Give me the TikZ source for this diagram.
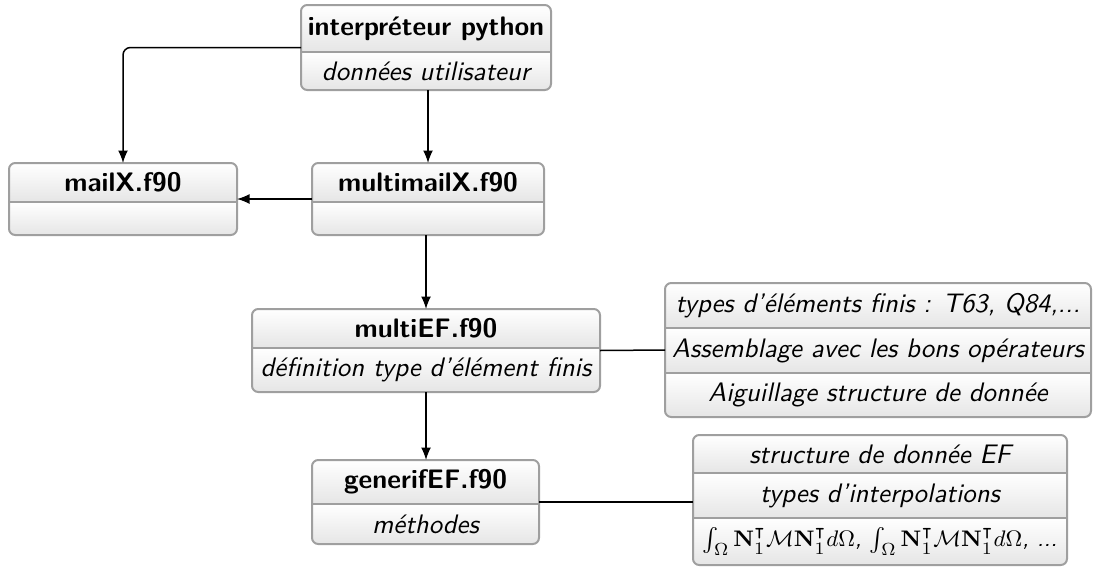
\documentclass[tikz,border=0pt]{standalone}
\usepackage{amsmath,amssymb}
\usetikzlibrary{fit,backgrounds,arrows.meta}
\renewcommand\familydefault{\sfdefault}
\tikzset{
  partn/.style={inner sep=0pt, outer sep=0pt, font=\fontsize{10.7}{12.8}\selectfont\sffamily},
  ttl/.style={partn, font=\fontsize{10.7}{12.8}\selectfont\sffamily\bfseries},
  sub/.style={partn, font=\fontsize{10.7}{12.8}\selectfont\sffamily\itshape},
  mathline/.style={partn, font=\fontsize{9.4}{11}\selectfont\sffamily\itshape},
  pw/.style={minimum width=#1*0.4pt},
  ph/.style={minimum height=#1*0.4pt},
  frame/.style={draw=gray!75, line width=0.8pt, rounded corners=2.5pt, inner sep=0pt, outer sep=0pt},
  sepline/.style={draw=gray!75, line width=0.6pt},
  arr/.style={draw=black, line width=0.6pt, -{Latex[length=5pt,width=4pt]}},
  lnk/.style={draw=black, line width=0.6pt},
  shd/.style={top color=white, bottom color=gray!20},
}
\newcommand\shadebox[2]{%
  \begin{scope}[on background layer]
    \begin{scope}
      \clip[rounded corners=2.5pt] (#1.north west) rectangle (#1.south east);
      \foreach \p in {#2} {\shade[shd] (\p.north west) rectangle (\p.south east);}
    \end{scope}
  \end{scope}}
\begin{document}
\begin{tikzpicture}[x=0.4pt, y=-0.4pt]
\useasboundingbox (0,0) rectangle (1093,567);
% interpreteur
\node[ttl, pw=250, ph=47] (b1a) at (426,28.5) {interpréteur python};
\node[sub, pw=250, ph=38] (b1b) at (426,71) {données utilisateur};
\node[frame, fit=(b1a)(b1b)] (b1) {};
\shadebox{b1}{b1a,b1b}
\draw[sepline] (b1a.south west) -- (b1a.south east);
% mailX
\node[ttl, pw=228, ph=39] (b2a) at (123,182.5) {mailX.f90};
\node[sub, pw=228, ph=33] (b2b) at (123,218.5) {};
\node[frame, fit=(b2a)(b2b)] (b2) {};
\shadebox{b2}{b2a,b2b}
\draw[sepline] (b2a.south west) -- (b2a.south east);
% multimailX
\node[ttl, pw=232, ph=39] (b3a) at (428,182.5) {multimailX.f90};
\node[sub, pw=232, ph=33] (b3b) at (428,218.5) {};
\node[frame, fit=(b3a)(b3b)] (b3) {};
\shadebox{b3}{b3a,b3b}
\draw[sepline] (b3a.south west) -- (b3a.south east);
% multiEF
\node[ttl, pw=348, ph=39] (b4a) at (426,328.5) {multiEF.f90};
\node[sub, pw=348, ph=44] (b4b) at (426,370) {définition type d'élément finis};
\node[frame, fit=(b4a)(b4b)] (b4) {};
\shadebox{b4}{b4a,b4b}
\draw[sepline] (b4a.south west) -- (b4a.south east);
% right 1
\node[sub, pw=426, ph=45] (b5a) at (878,305.5) {types d'éléments finis : T63, Q84,...};
\node[sub, pw=426, ph=45] (b5b) at (878,350.5) {Assemblage avec les bons opérateurs};
\node[sub, pw=426, ph=44] (b5c) at (878,395) {Aiguillage structure de donnée};
\node[frame, fit=(b5a)(b5c)] (b5) {};
\shadebox{b5}{b5a,b5b,b5c}
\draw[sepline] (b5a.south west) -- (b5a.south east);
\draw[sepline] (b5b.south west) -- (b5b.south east);
% generifEF
\node[ttl, pw=227, ph=44] (b6a) at (425.5,482) {generifEF.f90};
\node[sub, pw=227, ph=40] (b6b) at (425.5,524) {méthodes};
\node[frame, fit=(b6a)(b6b)] (b6) {};
\shadebox{b6}{b6a,b6b}
\draw[sepline] (b6a.south west) -- (b6a.south east);
% right 2
\node[sub, pw=374, ph=38] (b7a) at (880,454) {structure de donnée EF};
\node[sub, pw=374, ph=45] (b7b) at (880,495.5) {types d'interpolations};
\node[mathline, pw=374, ph=47] (b7c) at (880,541.5) {$\int_\Omega \mathbf{N}_1^\intercal\mathcal{M}\mathbf{N}_1^\intercal d\Omega$, $\int_\Omega \mathbf{N}_1^\intercal\mathcal{M}\mathbf{N}_1^\intercal d\Omega$, ...};
\node[frame, fit=(b7a)(b7c)] (b7) {};
\shadebox{b7}{b7a,b7b,b7c}
\draw[sepline] (b7a.south west) -- (b7a.south east);
\draw[sepline] (b7b.south west) -- (b7b.south east);
% connectors
\draw[arr, rounded corners=3pt] (b1.west) -| (b2.north);
\draw[arr] (b1.south -| b3.north) -- (b3.north);
\draw[arr] (b3.west) -- (b2.east);
\draw[arr] (b3.south -| b4.north) -- (b4.north);
\draw[arr] (b4.south) -- (b4.south |- b6.north);
\draw[lnk] (b4.east) -- (b5.west);
\draw[lnk] (b6.east) -- (b6.east -| b7.west);
\end{tikzpicture}
\end{document}
